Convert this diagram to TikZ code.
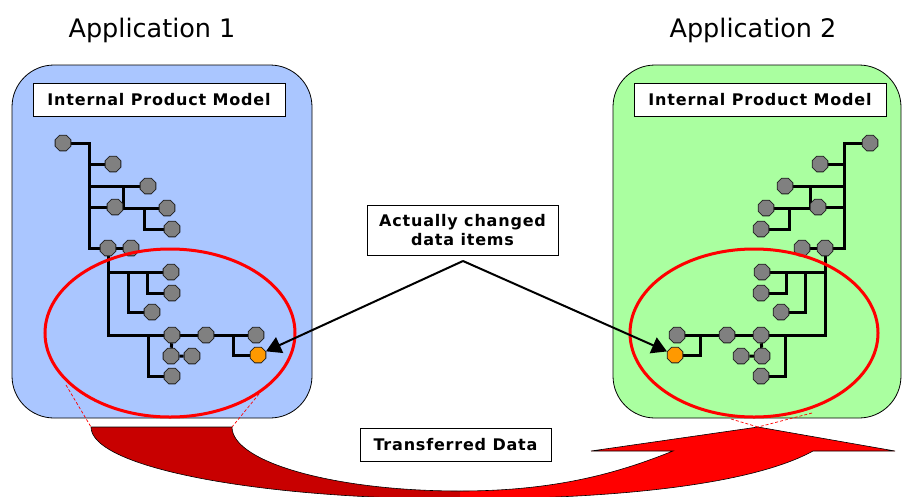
\documentclass[tikz,border=0pt]{standalone}
\usepackage{fontspec}
\setmainfont{DejaVu Sans}
\newfontfamily\spfont{DejaVu Sans}[LetterSpace=5]
\usetikzlibrary{arrows.meta,shapes.geometric}
\pgfdeclarelayer{bg}\pgfdeclarelayer{wires}\pgfdeclarelayer{front}
\pgfsetlayers{bg,wires,main,front}
\definecolor{appblue}{RGB}{170,198,255}
\definecolor{appgreen}{RGB}{170,255,160}
\definecolor{darkred}{RGB}{200,0,0}
\definecolor{brightred}{RGB}{255,0,0}
\definecolor{nodegray}{RGB}{128,128,128}
\definecolor{nodeedge}{RGB}{30,30,30}
\definecolor{nodeorange}{RGB}{255,153,0}
\tikzset{
  gnode/.style={regular polygon, regular polygon sides=8, minimum size=17pt, inner sep=0pt,
    fill=nodegray, draw=nodeedge, line width=0.8pt},
  onode/.style={gnode, fill=nodeorange},
  tline/.style={line width=3pt, draw=black},
  appbox/.style={draw=black, line width=0.8pt, rounded corners=42pt, inner sep=0pt},
  labbox/.style={draw=black, line width=0.8pt, fill=white, inner sep=0pt,
    font=\spfont\bfseries\fontsize{16}{19}\selectfont},
  title/.style={anchor=base, font=\fontsize{25.5}{30}\selectfont},
  redring/.style={draw=brightred, line width=3pt},
  reddash/.style={draw=brightred, line width=0.7pt, dash pattern=on 3pt off 2pt},
  callout/.style={line width=2pt, -{Triangle[length=15pt,width=17pt]}},
}
\newcommand\ptree[2]{%
  \node[gnode] (#1a) at (#2 63,143) {};
  \node[gnode] (#1b) at (#2 113,164) {};
  \node[gnode] (#1c) at (#2 148,186) {};
  \node[gnode] (#1d) at (#2 167,208) {};
  \node[gnode] (#1e) at (#2 172,229) {};
  \node[gnode] (#1f) at (#2 115,207) {};
  \node[gnode] (#1g) at (#2 108,248) {};
  \node[gnode] (#1h) at (#2 131,248) {};
  \node[gnode] (#1i) at (#2 171,272) {};
  \node[gnode] (#1j) at (#2 172,293) {};
  \node[gnode] (#1k) at (#2 152,312) {};
  \node[gnode] (#1l) at (#2 172,335) {};
  \node[gnode] (#1m) at (#2 206,335) {};
  \node[gnode] (#1n) at (#2 256,335) {};
  \node[onode] (#1o) at (#2 258,355) {};
  \node[gnode] (#1p) at (#2 171,356) {};
  \node[gnode] (#1q) at (#2 192,356) {};
  \node[gnode] (#1r) at (#2 172,376) {};
  \coordinate (#1t1) at (#2 89,143);
  \coordinate (#1t2) at (#2 89,248);
  \coordinate (#1s1) at (#2 123,186);
  \coordinate (#1s2) at (#2 144,208);
  \coordinate (#1s3) at (#2 128,272);
  \coordinate (#1s4) at (#2 147,272);
  \coordinate (#1s5) at (#2 148,335);
  \coordinate (#1u) at (#2 233,335);
  \begin{pgfonlayer}{wires}
    \draw[tline] (#1a) -| (#1t2) -- (#1g);
    \draw[tline] (#1b) -- (#1b -| #1t1);
    \draw[tline] (#1c) -- (#1c -| #1t1);
    \draw[tline] (#1f) -- (#1f -| #1t1);
    \draw[tline] (#1s1) |- (#1d);
    \draw[tline] (#1s2) |- (#1e);
    \draw[tline] (#1g) -- (#1h);
    \draw[tline] (#1g) |- (#1l);
    \draw[tline] (#1i) -- (#1i -| #1g);
    \draw[tline] (#1s3) |- (#1k);
    \draw[tline] (#1s4) |- (#1j);
    \draw[tline] (#1s5) |- (#1r);
    \draw[tline] (#1l) -- (#1m) -- (#1n);
    \draw[tline] (#1u) |- (#1o);
    \draw[tline] (#1l) -- (#1p) -- (#1q);
  \end{pgfonlayer}
}
\begin{document}
\begin{tikzpicture}[x=1pt,y=-1pt]
\useasboundingbox (0,0) rectangle (902,496);
% titles
\node[title] (app1) at (152,37) {Application 1};
\node[title] (app2) at (753,37) {Application 2};
% application boxes
\begin{pgfonlayer}{bg}
\node[appbox, fill=appblue, minimum width=300pt, minimum height=353pt] (box1) at (162,241.5) {};
\node[appbox, fill=appgreen, minimum width=288pt, minimum height=353pt] (box2) at (757,241.5) {};
\end{pgfonlayer}
\node[labbox, minimum width=252pt, minimum height=33pt] (ipm1) at (159,100) {Internal Product Model};
\node[labbox, minimum width=252pt, minimum height=33pt] (ipm2) at (760,100) {Internal Product Model};
% trees
\ptree{L}{}
\ptree{R}{933-}
% rings
\begin{pgfonlayer}{front}
\draw[redring] (170,333) ellipse [x radius=125pt, y radius=84pt];
\draw[redring] (754,333) ellipse [x radius=124pt, y radius=84pt];
\end{pgfonlayer}
% changed items label and callouts
\node[labbox, align=center, minimum width=191pt, minimum height=50pt] (chg) at (462.5,230) {Actually changed\\data items};
\coordinate (src) at (463,261);
\begin{pgfonlayer}{front}
\draw[callout] (src) -- (Lo);
\draw[callout] (src) -- (Ro);
\end{pgfonlayer}
% transfer arrow
\fill[darkred] (91,427) -- (232,427) .. controls (232,462) and (334,491) .. (460,491)
  -- (460,499) .. controls (256,499) and (91,467) .. (91,427) -- cycle;
\fill[brightred] (460,491) .. controls (560,491) and (623,471) .. (673,451) -- (591,451)
  -- (758,427) -- (895,451) -- (813,451) .. controls (753,484) and (620,499) .. (460,499) -- cycle;
\draw[line width=0.6pt] (460,491) .. controls (334,491) and (232,462) .. (232,427) -- (91,427)
  .. controls (91,467) and (256,499) .. (460,499);
\draw[line width=0.6pt] (460,491) .. controls (560,491) and (623,471) .. (673,451) -- (591,451)
  -- (758,427) -- (895,451) -- (813,451) .. controls (753,484) and (620,499) .. (460,499);
% dashed projection lines
\coordinate (dl1) at (66,385);
\coordinate (dl2) at (259,394);
\coordinate (dr1) at (731,419);
\coordinate (dr2) at (812,413);
\coordinate (tl1) at (91,427);
\coordinate (tl2) at (232,427);
\coordinate (tip) at (758,427);
\draw[reddash] (dl1) -- (tl1);
\draw[reddash] (dl2) -- (tl2);
\draw[reddash] (dr1) -- (tip);
\draw[reddash] (dr2) -- (tip);
\node[labbox, minimum width=191pt, minimum height=33pt] (trans) at (455.5,444.5) {Transferred Data};
\end{tikzpicture}
\end{document}
